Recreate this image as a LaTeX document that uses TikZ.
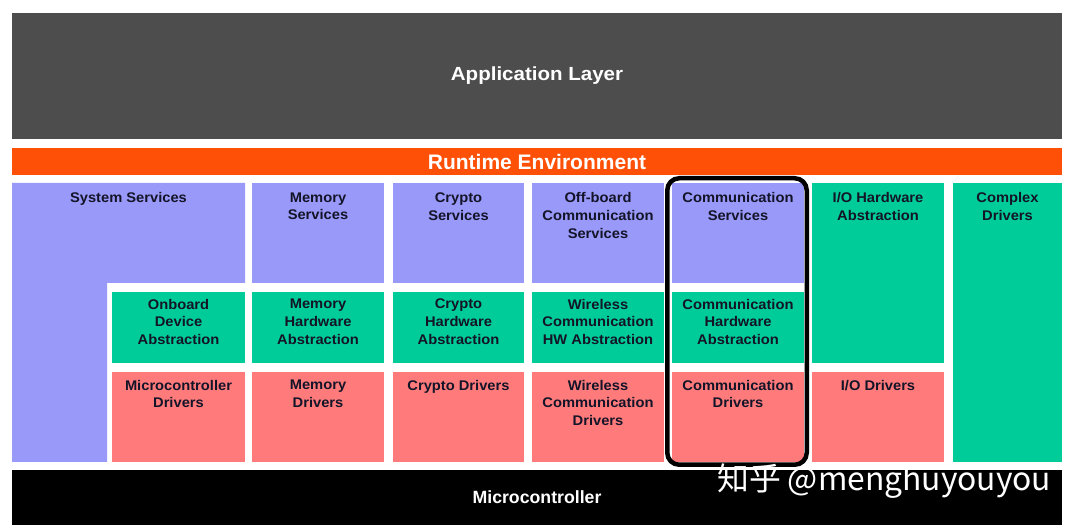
\documentclass[tikz,border=0pt]{standalone}
\usepackage{fontspec}
\setmainfont{Liberation Sans}
\newfontfamily\cjk{Noto Sans CJK SC}
\newfontfamily\wideapp[FakeStretch=1.08]{Liberation Sans}
\newfontfamily\boxfont[FakeStretch=1.05]{Liberation Sans}
\definecolor{appgray}{HTML}{4D4D4D}
\definecolor{rteorange}{HTML}{FF5008}
\definecolor{svcpurple}{HTML}{9999FA}
\definecolor{hwgreen}{HTML}{00CC99}
\definecolor{drvred}{HTML}{FF7B7B}
\definecolor{txtdark}{HTML}{141428}
\tikzset{
  blk/.style={inner sep=0pt, outer sep=0pt, draw=none},
  lbl/.style={inner sep=0pt, anchor=north, align=center, font=\boxfont\bfseries\fontsize{14}{17.6}\selectfont, text=txtdark},
  biglbl/.style={inner sep=0pt, text=white, font=\bfseries},
  hilite/.style={draw=black, line width=4.5pt, rounded corners=12pt, inner sep=0pt, minimum width=139.5pt, minimum height=286.5pt},
  wmark/.style={inner sep=0pt, anchor=base west, text=white, font=\cjk\fontsize{31.8}{31.8}\selectfont}
}
% \mkblk{name}{x1}{y1}{x2}{y2}{colour}
\newcommand{\mkblk}[6]{\node[blk, fill=#6, minimum width={(#4-#2)*1pt}, minimum height={(#5-#3)*1pt}] (#1) at ({(#2+#4)/2},{(#3+#5)/2}) {};}
\begin{document}
\begin{tikzpicture}[x=1pt,y=-1pt]
\useasboundingbox[fill=white] (0,0) rectangle (1080,529);
% top layers
\mkblk{app}{12}{13}{1062}{139}{appgray}
\node[biglbl, font=\wideapp\bfseries\fontsize{19}{22}\selectfont] (applbl) at (537,76) {Application Layer};
\mkblk{rte}{12}{148}{1062}{175}{rteorange}
\node[biglbl, font=\bfseries\fontsize{21}{24}\selectfont] (rtelbl) at (537,161.5) {Runtime Environment};
% system services L shape
\fill[svcpurple] (12,183) -- (245,183) -- (245,283) -- (107,283) -- (107,462) -- (12,462) -- cycle;
\coordinate (sys) at (128.5,192.5);
\node[lbl] (syslbl) at (sys) {System Services};
% row 1 services
\mkblk{mems}{252}{183}{384}{283}{svcpurple}
\mkblk{crys}{393}{183}{524}{283}{svcpurple}
\mkblk{offs}{532}{183}{664}{283}{svcpurple}
\mkblk{coms}{672}{183}{804}{283}{svcpurple}
\mkblk{iohw}{812}{183}{944}{363}{hwgreen}
\mkblk{cdd}{953}{183}{1062}{462}{hwgreen}
% row 2 hw abstraction
\mkblk{obd}{112}{292}{245}{363}{hwgreen}
\mkblk{memhw}{252}{292}{384}{363}{hwgreen}
\mkblk{cryhw}{393}{292}{524}{363}{hwgreen}
\mkblk{wlhw}{532}{292}{664}{363}{hwgreen}
\mkblk{comhw}{672}{292}{804}{363}{hwgreen}
% row 3 drivers
\mkblk{mcud}{112}{372}{245}{462}{drvred}
\mkblk{memd}{252}{372}{384}{462}{drvred}
\mkblk{cryd}{393}{372}{524}{462}{drvred}
\mkblk{wld}{532}{372}{664}{462}{drvred}
\mkblk{comd}{672}{372}{804}{462}{drvred}
\mkblk{iod}{812}{372}{944}{462}{drvred}
% microcontroller
\mkblk{mcu}{12}{470}{1062}{525}{black}
\node[biglbl, font=\bfseries\fontsize{17.7}{20}\selectfont] (mculbl) at (537,497) {Microcontroller};
% labels row 1
\node[lbl] (memslbl) at ([yshift=-9.5pt]mems.north) {Memory\\Services};
\node[lbl] (cryslbl) at ([yshift=-9.5pt]crys.north) {Crypto\\Services};
\node[lbl] (offslbl) at ([yshift=-9.5pt]offs.north) {Off-board\\Communication\\Services};
\node[lbl] (comslbl) at ([yshift=-9.5pt]coms.north) {Communication\\Services};
\node[lbl] (iohwlbl) at ([yshift=-9.5pt]iohw.north) {I/O Hardware\\Abstraction};
\node[lbl] (cddlbl) at ([yshift=-9.5pt]cdd.north) {Complex\\Drivers};
% labels row 2
\node[lbl] (obdlbl) at ([yshift=-7pt]obd.north) {Onboard\\Device\\Abstraction};
\node[lbl] (memhwlbl) at ([yshift=-7pt]memhw.north) {Memory\\Hardware\\Abstraction};
\node[lbl] (cryhwlbl) at ([yshift=-7pt]cryhw.north) {Crypto\\Hardware\\Abstraction};
\node[lbl] (wlhwlbl) at ([yshift=-7pt]wlhw.north) {Wireless\\Communication\\HW Abstraction};
\node[lbl] (comhwlbl) at ([yshift=-7pt]comhw.north) {Communication\\Hardware\\Abstraction};
% labels row 3
\node[lbl] (mcudlbl) at ([yshift=-8pt]mcud.north) {Microcontroller\\Drivers};
\node[lbl] (memdlbl) at ([yshift=-8pt]memd.north) {Memory\\Drivers};
\node[lbl] (crydlbl) at ([yshift=-8pt]cryd.north) {Crypto Drivers};
\node[lbl] (wldlbl) at ([yshift=-8pt]wld.north) {Wireless\\Communication\\Drivers};
\node[lbl] (comdlbl) at ([yshift=-8pt]comd.north) {Communication\\Drivers};
\node[lbl] (iodlbl) at ([yshift=-8pt]iod.north) {I/O Drivers};
% highlight
\node[hilite] (hl) at (737,321.5) {};
% watermark
\node[wmark] (wm) at (717,490) {知乎 @menghuyouyou};
\end{tikzpicture}
\end{document}
